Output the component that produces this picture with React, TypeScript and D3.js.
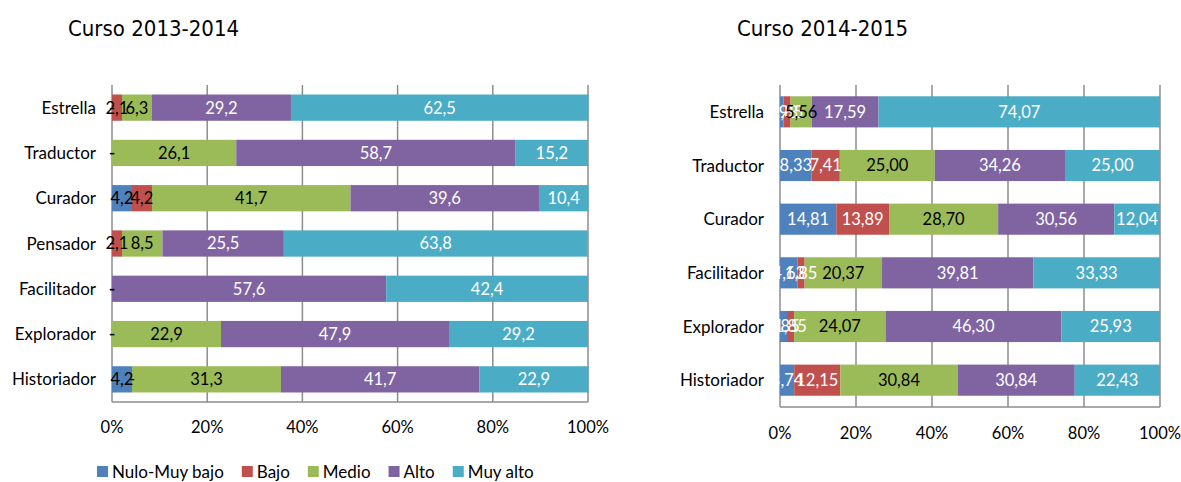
import React, { useRef, useEffect } from "react";
import * as d3 from "d3";

const levels = ["Nulo-Muy bajo", "Bajo", "Medio", "Alto", "Muy alto"];
const levelColors = ["#4F81BD", "#C0504D", "#9BBB59", "#8064A2", "#4BACC6"];

const roles1314 = ["Estrella", "Traductor", "Curador", "Pensador", "Facilitador", "Explorador", "Historiador"];
const nulo1314 = [0, 0, 4.2, 0, 0, 0, 4.2];
const bajo1314 = [2.1, 0, 4.2, 2.1, 0, 0, 0];
const medio1314 = [6.3, 26.1, 41.7, 8.5, 0, 22.9, 31.3];
const alto1314 = [29.2, 58.7, 39.6, 25.5, 57.6, 47.9, 41.7];
const muyAlto1314 = [62.5, 15.2, 10.4, 63.8, 42.4, 29.2, 22.9];

const roles1415 = ["Estrella", "Traductor", "Curador", "Facilitador", "Explorador", "Historiador"];
const nulo1415 = [0.93, 8.33, 14.81, 4.63, 1.85, 3.74];
const bajo1415 = [1.85, 7.41, 13.89, 1.85, 1.85, 12.15];
const medio1415 = [5.56, 25.0, 28.7, 20.37, 24.07, 30.84];
const alto1415 = [17.59, 34.26, 30.56, 39.81, 46.3, 30.84];
const muyAlto1415 = [74.07, 25.0, 12.04, 33.33, 25.93, 22.43];

const tickValues = [0, 20, 40, 60, 80, 100];

const FONT = "Lato, 'Open Sans', sans-serif";
const TITLE_FONT = "'DejaVu Sans Condensed', Lato, sans-serif";

interface ChartCfg {
  title: string;
  titleX: number;
  roles: string[];
  series: number[][];
  decimals: number;
  labelColors: string[];
  left: number;
  right: number;
  top: number;
  bottom: number;
  tickY: number;
}

function drawChart(svg: d3.Selection<SVGSVGElement, unknown, null, undefined>, cfg: ChartCfg) {
  const g = svg.append("g");
  const x = d3.scaleLinear().domain([0, 100]).range([cfg.left, cfg.right]);
  const y = d3.scaleBand().domain(cfg.roles).range([cfg.top, cfg.bottom]).paddingInner(0.42).paddingOuter(0.21);

  g.append("text")
    .attr("x", cfg.titleX)
    .attr("y", 36)
    .attr("font-family", TITLE_FONT)
    .attr("font-size", 22)
    .attr("fill", "#000")
    .text(cfg.title);

  // gridlines
  g.selectAll(".grid")
    .data(tickValues)
    .join("line")
    .attr("x1", (d) => x(d))
    .attr("x2", (d) => x(d))
    .attr("y1", cfg.top)
    .attr("y2", cfg.bottom)
    .attr("stroke", "#8c8c8c")
    .attr("stroke-width", 1.5);

  g.append("line")
    .attr("x1", cfg.left)
    .attr("x2", cfg.right)
    .attr("y1", cfg.bottom)
    .attr("y2", cfg.bottom)
    .attr("stroke", "#8c8c8c")
    .attr("stroke-width", 1.5);

  const fmt = (v: number) => (v === 0 ? "-" : v.toFixed(cfg.decimals).replace(".", ","));

  cfg.roles.forEach((role, i) => {
    let acc = 0;
    const segs = cfg.series.map((s, k) => {
      const start = acc;
      acc += s[i];
      return { k, start, end: acc, v: s[i] };
    });
    const row = g.append("g");
    row.selectAll("rect")
      .data(segs)
      .join("rect")
      .attr("x", (d) => x(d.start))
      .attr("y", y(role)!)
      .attr("width", (d) => x(d.end) - x(d.start))
      .attr("height", y.bandwidth())
      .attr("fill", (d) => levelColors[d.k]);
    row.selectAll("text")
      .data(segs)
      .join("text")
      .attr("x", (d) => (x(d.start) + x(d.end)) / 2)
      .attr("y", y(role)! + y.bandwidth() / 2)
      .attr("dy", "0.36em")
      .attr("text-anchor", "middle")
      .attr("font-family", FONT)
      .attr("font-size", 16.5)
      .attr("fill", (d) => cfg.labelColors[d.k])
      .text((d) => fmt(d.v));

    g.append("text")
      .attr("x", cfg.left - 16)
      .attr("y", y(role)! + y.bandwidth() / 2)
      .attr("dy", "0.36em")
      .attr("text-anchor", "end")
      .attr("font-family", FONT)
      .attr("font-size", 17)
      .attr("fill", "#000")
      .text(role);
  });

  g.selectAll(".tick")
    .data(tickValues)
    .join("text")
    .attr("x", (d) => x(d))
    .attr("y", cfg.tickY)
    .attr("text-anchor", "middle")
    .attr("font-family", FONT)
    .attr("font-size", 16.5)
    .attr("fill", "#000")
    .text((d) => `${d}%`);
}

export default function App() {
  const svgRef = useRef<SVGSVGElement>(null);

  useEffect(() => {
    if (!svgRef.current) return;
    document.body.style.margin = "0";
    const svg = d3.select(svgRef.current);
    svg.selectAll("*").remove();

    svg.append("rect").attr("width", 1181).attr("height", 482).attr("fill", "#fff");

    drawChart(svg, {
      title: "Curso 2013-2014",
      titleX: 68,
      roles: roles1314,
      series: [nulo1314, bajo1314, medio1314, alto1314, muyAlto1314],
      decimals: 1,
      labelColors: ["#000", "#000", "#000", "#fff", "#fff"],
      left: 112,
      right: 588,
      top: 85,
      bottom: 402,
      tickY: 433,
    });

    drawChart(svg, {
      title: "Curso 2014-2015",
      titleX: 737,
      roles: roles1415,
      series: [nulo1415, bajo1415, medio1415, alto1415, muyAlto1415],
      decimals: 2,
      labelColors: ["#fff", "#fff", "#000", "#fff", "#fff"],
      left: 780,
      right: 1160,
      top: 85,
      bottom: 407,
      tickY: 439,
    });

    // legend
    const legend = svg.append("g").attr("transform", "translate(97,472)");
    let lx = 0;
    levels.forEach((name, i) => {
      const item = legend.append("g").attr("transform", `translate(${lx},0)`);
      item.append("rect").attr("x", 0).attr("y", -6).attr("width", 11).attr("height", 11).attr("fill", levelColors[i]);
      const t = item.append("text")
        .attr("x", 15)
        .attr("y", 0)
        .attr("dy", "0.36em")
        .attr("font-family", FONT)
        .attr("font-size", 17)
        .attr("fill", "#000")
        .text(name);
      const w = (t.node() as SVGTextElement).getComputedTextLength();
      lx += 15 + w + 18;
    });
  }, []);

  return <svg ref={svgRef} width={1181} height={482} style={{ display: "block" }} />;
}
